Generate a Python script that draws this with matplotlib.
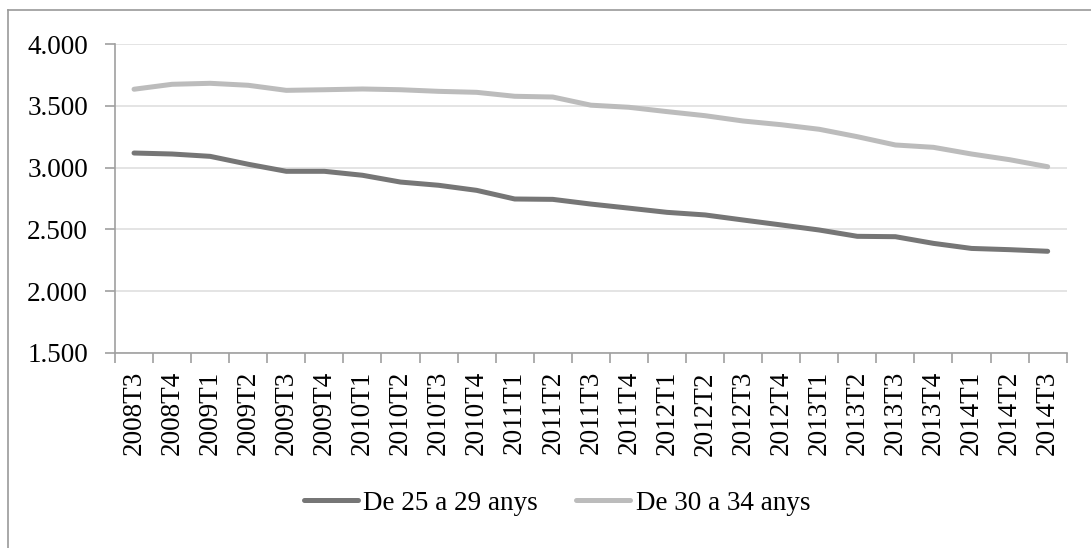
import matplotlib
matplotlib.use("Agg")
import matplotlib.pyplot as plt
from matplotlib.lines import Line2D
from matplotlib.ticker import FuncFormatter, FixedLocator

# quarters (T = trimestre)
quarters = ['2008T3', '2008T4', '2009T1', '2009T2', '2009T3', '2009T4',
            '2010T1', '2010T2', '2010T3', '2010T4', '2011T1', '2011T2',
            '2011T3', '2011T4', '2012T1', '2012T2', '2012T3', '2012T4',
            '2013T1', '2013T2', '2013T3', '2013T4', '2014T1', '2014T2',
            '2014T3']

age_25_29 = [3118, 3110, 3091, 3027, 2970, 2970, 2938, 2883, 2857, 2816,
             2746, 2743, 2705, 2672, 2638, 2617, 2576, 2536, 2495, 2444,
             2441, 2387, 2346, 2336, 2323]

age_30_34 = [3634, 3674, 3682, 3666, 3625, 3630, 3636, 3630, 3617, 3609,
             3577, 3571, 3505, 3488, 3453, 3420, 3377, 3347, 3310, 3250,
             3183, 3164, 3110, 3064, 3007]

label_25_29 = 'De 25 a 29 anys'
label_30_34 = 'De 30 a 34 anys'

plt.rcParams['font.family'] = ['Liberation Serif', 'DejaVu Serif']
FS = 19.5

W, H = 1091, 548
fig = plt.figure(figsize=(W / 100, H / 100), dpi=100)
ax = fig.add_axes([115 / W, (H - 353) / H, (1066.7 - 115) / W, (353 - 44) / H])

x = list(range(len(quarters)))
ax.plot(x, age_25_29, color='#767676', lw=3.6, solid_capstyle='round',
        solid_joinstyle='round', label=label_25_29, zorder=3)
ax.plot(x, age_30_34, color='#bcbcbc', lw=3.6, solid_capstyle='round',
        solid_joinstyle='round', label=label_30_34, zorder=3)

ax.set_xlim(-0.5, len(quarters) - 0.5)
ax.set_ylim(1500, 4000)
ax.set_yticks([1500, 2000, 2500, 3000, 3500, 4000])
ax.yaxis.set_major_formatter(FuncFormatter(lambda v, p: f'{v:,.0f}'.replace(',', '.')))
ax.grid(axis='y', color='#e2e2e2', lw=1.3, zorder=0)

ax.set_xticks(x)
ax.set_xticklabels(quarters, rotation=90)
ax.xaxis.set_minor_locator(FixedLocator([i - 0.5 for i in range(len(quarters) + 1)]))
ax.tick_params(axis='x', which='major', length=0, pad=13, labelsize=FS)
ax.tick_params(axis='x', which='minor', length=7.5, width=1.2, color='#a0a0a0')
ax.tick_params(axis='y', length=7.5, width=1.2, color='#a0a0a0', pad=12, labelsize=FS)

for side in ['top', 'right']:
    ax.spines[side].set_visible(False)
for side in ['left', 'bottom']:
    ax.spines[side].set_color('#a0a0a0')
    ax.spines[side].set_linewidth(1.2)

fig.legend(loc='center', bbox_to_anchor=(557 / W, 1 - 503 / H), ncol=2,
           frameon=False, fontsize=FS, handlelength=2.0, handletextpad=0.2,
           columnspacing=1.4)

# outer chart frame (only left and top edges are visible in the crop)
fig.add_artist(Line2D([7.5 / W, 7.5 / W], [0, 1 - 10 / H], color='#9a9a9a', lw=1.2,
                      transform=fig.transFigure))
fig.add_artist(Line2D([7.5 / W, 1], [1 - 10 / H, 1 - 10 / H], color='#9a9a9a', lw=1.2,
                      transform=fig.transFigure))

fig.savefig('out.png', dpi=100)
